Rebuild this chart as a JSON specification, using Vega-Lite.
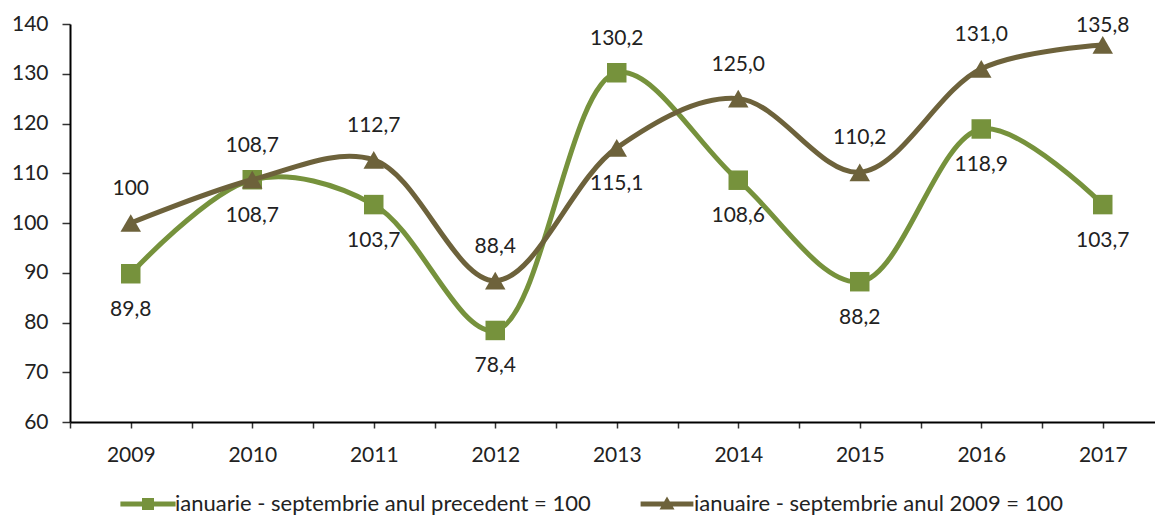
{
  "$schema": "https://vega.github.io/schema/vega-lite/v6.json",
  "width": 1085,
  "height": 398,
  "autosize": {"type": "none"},
  "padding": {"left": 70, "top": 24, "right": 0, "bottom": 94},
  "background": "white",
  "config": {
    "view": {"stroke": null},
    "font": "Lato",
    "axis": {"grid": false, "domainColor": "#000000", "domainWidth": 2, "tickColor": "#333333", "tickWidth": 1.5, "labelFont": "Lato", "labelFontSize": 21, "labelColor": "#222222", "title": null},
    "legend": {"labelFont": "Lato", "labelFontSize": 22, "labelColor": "#222222", "labelLimit": 800, "orient": "none", "direction": "horizontal", "padding": 0, "symbolSize": 144, "symbolOffset": 22, "labelOffset": 16, "symbolStrokeWidth": 0, "symbolStrokeColor": "transparent", "symbolOpacity": 1}
  },
  "data": {
    "values": [
      {"year": 2009, "series": "ianuarie - septembrie anul precedent = 100", "value": 89.8, "label": "89,8", "pos": "below"},
      {"year": 2010, "series": "ianuarie - septembrie anul precedent = 100", "value": 108.7, "label": "108,7", "pos": "below"},
      {"year": 2011, "series": "ianuarie - septembrie anul precedent = 100", "value": 103.7, "label": "103,7", "pos": "below"},
      {"year": 2012, "series": "ianuarie - septembrie anul precedent = 100", "value": 78.4, "label": "78,4", "pos": "below"},
      {"year": 2013, "series": "ianuarie - septembrie anul precedent = 100", "value": 130.2, "label": "130,2", "pos": "above"},
      {"year": 2014, "series": "ianuarie - septembrie anul precedent = 100", "value": 108.6, "label": "108,6", "pos": "below"},
      {"year": 2015, "series": "ianuarie - septembrie anul precedent = 100", "value": 88.2, "label": "88,2", "pos": "below"},
      {"year": 2016, "series": "ianuarie - septembrie anul precedent = 100", "value": 118.9, "label": "118,9", "pos": "below"},
      {"year": 2017, "series": "ianuarie - septembrie anul precedent = 100", "value": 103.7, "label": "103,7", "pos": "below"},
      {"year": 2009, "series": "ianuaire - septembrie anul 2009 = 100", "value": 100, "label": "100", "pos": "above"},
      {"year": 2010, "series": "ianuaire - septembrie anul 2009 = 100", "value": 108.7, "label": "108,7", "pos": "above"},
      {"year": 2011, "series": "ianuaire - septembrie anul 2009 = 100", "value": 112.7, "label": "112,7", "pos": "above"},
      {"year": 2012, "series": "ianuaire - septembrie anul 2009 = 100", "value": 88.4, "label": "88,4", "pos": "above"},
      {"year": 2013, "series": "ianuaire - septembrie anul 2009 = 100", "value": 115.1, "label": "115,1", "pos": "below"},
      {"year": 2014, "series": "ianuaire - septembrie anul 2009 = 100", "value": 125.0, "label": "125,0", "pos": "above"},
      {"year": 2015, "series": "ianuaire - septembrie anul 2009 = 100", "value": 110.2, "label": "110,2", "pos": "above"},
      {"year": 2016, "series": "ianuaire - septembrie anul 2009 = 100", "value": 131.0, "label": "131,0", "pos": "above"},
      {"year": 2017, "series": "ianuaire - septembrie anul 2009 = 100", "value": 135.8, "label": "135,8", "pos": "near"}
    ]
  },
  "encoding": {
    "x": {
      "field": "year", "type": "quantitative",
      "scale": {"domain": [2008.5, 2017.43], "nice": false, "zero": false},
      "axis": {"values": [2008.5, 2009, 2009.5, 2010, 2010.5, 2011, 2011.5, 2012, 2012.5, 2013, 2013.5, 2014, 2014.5, 2015, 2015.5, 2016, 2016.5, 2017], "tickCount": 60, "labelExpr": "datum.value % 1 === 0 ? format(datum.value, 'd') : ''", "tickSize": 6, "labelPadding": 16, "labelFlush": false, "labelOverlap": false}
    },
    "y": {
      "field": "value", "type": "quantitative",
      "scale": {"domain": [60, 140], "nice": false, "zero": false},
      "axis": {"values": [60, 70, 80, 90, 100, 110, 120, 130, 140], "tickSize": 8, "labelPadding": 14}
    }
  },
  "layer": [
    {
      "transform": [{"filter": "datum.series === 'ianuarie - septembrie anul precedent = 100'"}],
      "encoding": {
        "color": {
          "field": "series", "type": "nominal",
          "scale": {"domain": ["ianuarie - septembrie anul precedent = 100"], "range": ["#76923c"]},
          "legend": {"title": null, "legendX": 45, "legendY": 469, "symbolType": "M-4.6,-0.4L4.6,-0.4L4.6,0.4L-4.6,0.4ZM-1,-1L1,-1L1,1L-1,1Z", "symbolFillColor": "#76923c"}
        }
      },
      "layer": [
        {"mark": {"type": "line", "interpolate": "catmull-rom", "strokeWidth": 5}},
        {"mark": {"type": "point", "filled": true, "opacity": 1, "shape": "square", "size": 380}}
      ]
    },
    {
      "transform": [{"filter": "datum.series === 'ianuaire - septembrie anul 2009 = 100'"}],
      "encoding": {
        "color": {
          "field": "series", "type": "nominal",
          "scale": {"domain": ["ianuaire - septembrie anul 2009 = 100"], "range": ["#6d623b"]},
          "legend": {"title": null, "legendX": 564, "legendY": 469, "symbolType": "M-4.4,-0.4L4.4,-0.4L4.4,0.4L-4.4,0.4ZM0,-1.25L1.25,0.9L-1.25,0.9Z", "symbolFillColor": "#6d623b"}
        }
      },
      "layer": [
        {"mark": {"type": "line", "interpolate": "catmull-rom", "strokeWidth": 5}},
        {"mark": {"type": "point", "filled": true, "opacity": 1, "shape": "triangle-up", "size": 420}}
      ]
    },
    {
      "transform": [{"filter": "datum.pos === 'above'"}],
      "mark": {"type": "text", "dy": -34, "baseline": "middle", "align": "center", "fontSize": 21, "font": "Lato"},
      "encoding": {"text": {"field": "label"}, "color": {"value": "#222222"}}
    },
    {
      "transform": [{"filter": "datum.pos === 'below'"}],
      "mark": {"type": "text", "dy": 36, "baseline": "middle", "align": "center", "fontSize": 21, "font": "Lato"},
      "encoding": {"text": {"field": "label"}, "color": {"value": "#222222"}}
    },
    {
      "transform": [{"filter": "datum.pos === 'near'"}],
      "mark": {"type": "text", "dy": -19, "baseline": "middle", "align": "center", "fontSize": 21, "font": "Lato"},
      "encoding": {"text": {"field": "label"}, "color": {"value": "#222222"}}
    }
  ],
  "resolve": {"scale": {"color": "independent"}, "legend": {"color": "independent"}}
}
